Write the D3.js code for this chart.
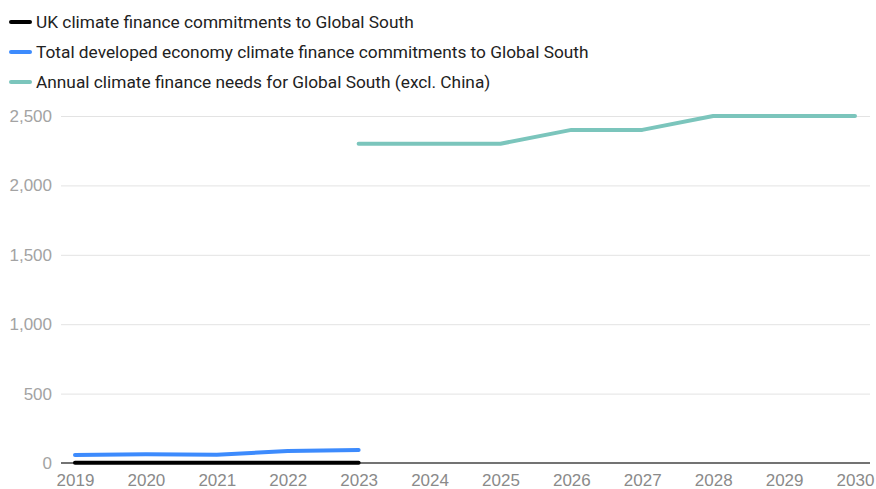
<!DOCTYPE html>
<html>
<head>
<meta charset="utf-8">
<script src="https://cdn.jsdelivr.net/npm/d3@7"></script>
<style>
  html, body { margin: 0; padding: 0; background: #fff; }
  svg { display: block; font-family: Roboto, "Noto Sans", sans-serif; }
</style>
</head>
<body>
<svg id="chart" width="876" height="489"></svg>
<script>
// Years on the x axis
const years = [2019, 2020, 2021, 2022, 2023, 2024, 2025, 2026, 2027, 2028, 2029, 2030];

// Series values (US$ billions)
const ukYears = [2019, 2020, 2021, 2022, 2023];
const ukValues = [2, 2, 2, 2, 2];

const developedYears = [2019, 2020, 2021, 2022, 2023];
const developedValues = [58, 63, 60, 86, 94];

const needsYears = [2023, 2024, 2025, 2026, 2027, 2028, 2029, 2030];
const needsValues = [2300, 2300, 2300, 2400, 2400, 2500, 2500, 2500];

const yTicks = [0, 500, 1000, 1500, 2000, 2500];

const seriesNames = [
  "UK climate finance commitments to Global South",
  "Total developed economy climate finance commitments to Global South",
  "Annual climate finance needs for Global South (excl. China)"
];
const seriesColors = ["#000000", "#3d8bfd", "#7bc5bc"];

const svg = d3.select("#chart");

const x = d3.scaleLinear().domain([2019, 2030]).range([75, 855]);
const y = d3.scaleLinear().domain([0, 2500]).range([463, 116]);

// Horizontal gridlines with value labels
const yAxis = d3.axisLeft(y)
  .tickValues(yTicks)
  .tickSize(-(870 - 61))
  .tickPadding(9)
  .tickFormat(d3.format(","));

const gy = svg.append("g")
  .attr("transform", "translate(61,0)")
  .call(yAxis);
gy.select(".domain").remove();
gy.selectAll(".tick line").attr("stroke", "#e3e3e3").attr("stroke-width", 1);
gy.selectAll(".tick text")
  .attr("fill", "#a3a3a3")
  .attr("font-size", 17)
  .attr("x", -9);
gy.selectAll(".tick").filter(d => d === 0).select("line").attr("stroke", "none");

// Year axis
const xAxis = d3.axisBottom(x)
  .tickValues(years)
  .tickSize(0)
  .tickPadding(11)
  .tickFormat(d3.format("d"));

const gx = svg.append("g")
  .attr("transform", "translate(0,463)")
  .call(xAxis);
gx.select(".domain").remove();
gx.selectAll(".tick text")
  .attr("fill", "#8a8a8a")
  .attr("font-size", 17);

// Zero baseline
svg.append("line")
  .attr("x1", 61).attr("x2", 870)
  .attr("y1", y(0)).attr("y2", y(0))
  .attr("stroke", "#444").attr("stroke-width", 1.3);

const line = d3.line()
  .x(d => x(d[0]))
  .y(d => y(d[1]));

const series = [
  { xs: needsYears, vs: needsValues, color: seriesColors[2] },
  { xs: developedYears, vs: developedValues, color: seriesColors[1] },
  { xs: ukYears, vs: ukValues, color: seriesColors[0] }
];

series.forEach(s => {
  svg.append("path")
    .datum(d3.zip(s.xs, s.vs))
    .attr("d", line)
    .attr("fill", "none")
    .attr("stroke", s.color)
    .attr("stroke-width", 4)
    .attr("stroke-linecap", "round")
    .attr("stroke-linejoin", "round");
});

// Legend
const legend = svg.append("g");
seriesNames.forEach((name, i) => {
  const ly = 22 + i * 30;
  legend.append("line")
    .attr("x1", 11).attr("x2", 30)
    .attr("y1", ly).attr("y2", ly)
    .attr("stroke", seriesColors[i])
    .attr("stroke-width", 4)
    .attr("stroke-linecap", "round");
  legend.append("text")
    .attr("x", 36).attr("y", ly)
    .attr("dy", "0.35em")
    .attr("fill", "#222")
    .attr("font-size", 17.3)
    .text(name);
});
</script>
</body>
</html>
